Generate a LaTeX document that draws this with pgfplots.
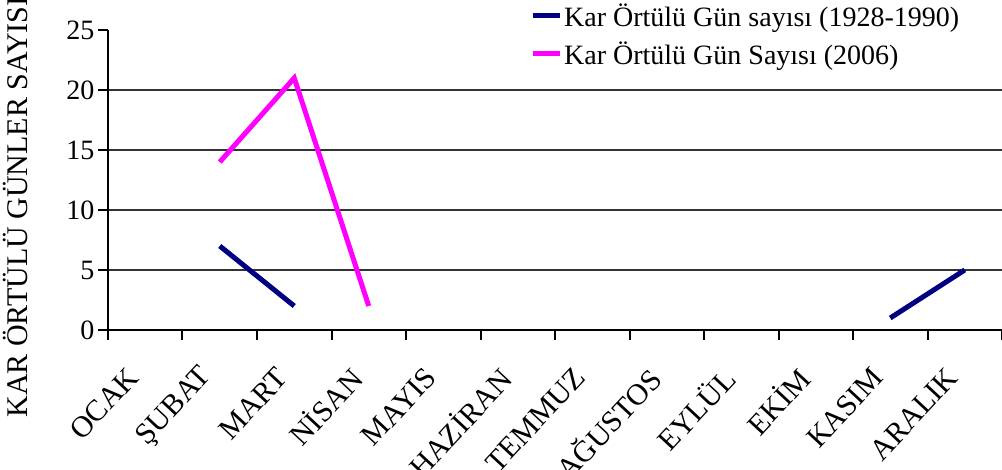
\documentclass[border=0pt]{standalone}
\usepackage{fontspec}
\setmainfont{Liberation Serif}
\usepackage{pgfplots}
\pgfplotsset{compat=1.18}
\definecolor{navyline}{RGB}{0,0,128}
\definecolor{pinkline}{RGB}{255,0,255}
\newcommand{\bigfont}{\fontsize{28}{34}\selectfont}
\newcommand{\catfont}{\fontsize{30}{36}\selectfont}
\begin{document}
\begin{tikzpicture}
\begin{axis}[
  scale only axis, width=894pt, height=300pt,
  xmin=0, xmax=12, ymin=0, ymax=25,
  axis x line*=bottom, axis y line*=left,
  axis line style={black, line width=2.5pt},
  tick align=outside,
  major tick length=10pt,
  tick style={black, line width=2pt},
  xtick={0,...,12}, xticklabels={,,,,,,,,,,,,,},
  extra x ticks={0.5,1.5,...,11.5},
  extra x tick labels={OCAK,ŞUBAT,MART,NİSAN,MAYIS,HAZİRAN,TEMMUZ,AĞUSTOS,EYLÜL,EKİM,KASIM,ARALIK},
  extra x tick style={major tick length=0pt},
  xticklabel style={font=\catfont, xshift=-10pt, yshift=-40pt, rotate=47, anchor=east},
  ytick={0,5,...,20},
  extra y ticks={25},
  extra y tick style={grid=none},
  ymajorgrids,
  major grid style={black!80, line width=2pt},
  yticklabel style={font=\bigfont},
  /pgf/number format/assume math mode=true,
  ylabel={KAR ÖRTÜLÜ GÜNLER SAYISI},
  ylabel style={font=\catfont, at={(axis description cs:-0.104,0.41)}, anchor=center},
  legend style={draw=none, fill=none, font=\bigfont, at={(rel axis cs:0.472,1.095)}, anchor=north west, row sep=10pt, inner sep=0pt},
  legend cell align=left,
  legend image code/.code={\draw[#1] (0pt,0pt) -- (27pt,0pt);},
  clip=false,
]
\addplot[navyline, line width=5pt, forget plot] coordinates {(1.5,7) (2.5,2)};
\addplot[navyline, line width=5pt] coordinates {(10.5,1) (11.5,5)};
\addlegendentry{Kar Örtülü Gün sayısı (1928-1990)}
\addplot[pinkline, line width=5pt] coordinates {(1.5,14) (2.5,21) (3.5,2)};
\addlegendentry{Kar Örtülü Gün Sayısı (2006)}
\end{axis}
\pgfresetboundingbox
\useasboundingbox (-108pt,-140pt) rectangle (894pt,330pt);
\end{tikzpicture}
\end{document}
